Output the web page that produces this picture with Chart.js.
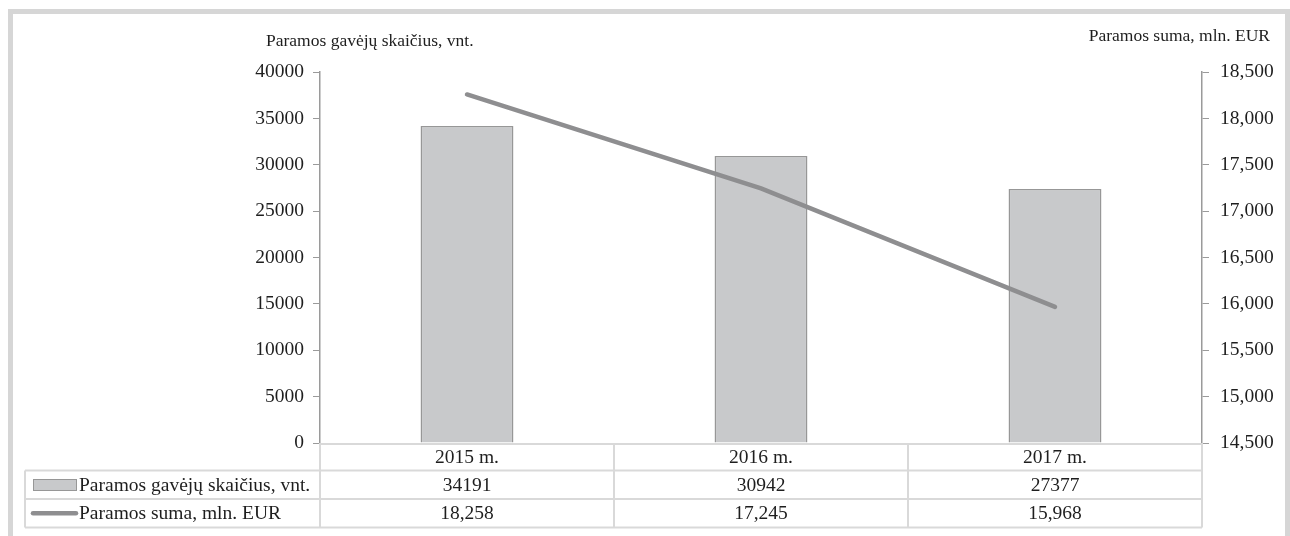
<!DOCTYPE html>
<html>
<head>
<meta charset="utf-8">
<script src="https://cdn.jsdelivr.net/npm/chart.js@4.4.1/dist/chart.umd.min.js"></script>
<style>
  html, body { margin: 0; padding: 0; background: #ffffff; }
  #wrap { position: relative; width: 1290px; height: 536px; }
</style>
</head>
<body>
<div id="wrap"><canvas id="c"></canvas></div>
<script>
// ---- data ----
const categories = ['2015 m.', '2016 m.', '2017 m.'];
const recipientsLabel = 'Paramos gavėjų skaičius, vnt.';
const amountLabel = 'Paramos suma, mln. EUR';
const recipients = [34191, 30942, 27377];
const amounts = [18258, 17245, 15968];
const leftTickMin = 0, leftTickMax = 40000, leftTickStep = 5000;
const rightTickMin = 14500, rightTickMax = 18500, rightTickStep = 500;

const FONT = '"Liberation Serif", "Times New Roman", serif';
const TEXT = '#1e1e1e';
const BAR_FILL = '#c8c9cb';
const BAR_BORDER = '#979797';
const LINE_COLOR = '#8e8e90';
const TABLE_LINE = '#d9d9d9';
const AXIS_COLOR = '#9a9a9a';

const fmt = v => Number(v).toLocaleString('en-US');

const framePlugin = {
  id: 'frame',
  beforeDraw(chart) {
    const ctx = chart.ctx;
    ctx.save();
    ctx.fillStyle = '#ffffff';
    ctx.fillRect(0, 0, chart.width, chart.height);
    ctx.strokeStyle = '#d6d6d6';
    ctx.lineWidth = 5;
    ctx.strokeRect(10.5, 11.5, 1277, 540);
    ctx.restore();
  }
};

const tablePlugin = {
  id: 'dataTable',
  afterDraw(chart) {
    const ctx = chart.ctx;
    const area = chart.chartArea;
    const n = categories.length;
    const step = (area.right - area.left) / n;
    const top = area.bottom;
    const rowH = 28.5;
    const r1 = top + 27.5, r2 = r1 + rowH, r3 = r2 + rowH;
    const tableLeft = 25;
    ctx.save();
    ctx.strokeStyle = TABLE_LINE;
    ctx.lineWidth = 2;
    ctx.beginPath();
    ctx.moveTo(area.left, top + 1); ctx.lineTo(area.right, top + 1);
    [r1, r2, r3].forEach(y => { ctx.moveTo(tableLeft, y); ctx.lineTo(area.right, y); });
    ctx.moveTo(tableLeft, r1); ctx.lineTo(tableLeft, r3);
    for (let i = 0; i <= n; i++) {
      const x = area.left + i * step;
      ctx.moveTo(x, top); ctx.lineTo(x, r3);
    }
    ctx.stroke();

    // legend keys
    ctx.fillStyle = BAR_FILL;
    ctx.strokeStyle = BAR_BORDER;
    ctx.lineWidth = 1;
    ctx.fillRect(33.5, 479.5, 43, 11);
    ctx.strokeRect(33.5, 479.5, 43, 11);
    ctx.strokeStyle = LINE_COLOR;
    ctx.lineWidth = 4.5;
    ctx.lineCap = 'round';
    ctx.beginPath();
    ctx.moveTo(33, (r2 + r3) / 2); ctx.lineTo(76, (r2 + r3) / 2);
    ctx.stroke();

    ctx.fillStyle = TEXT;
    ctx.font = '19.5px ' + FONT;
    ctx.textBaseline = 'middle';
    ctx.textAlign = 'left';
    ctx.fillText(recipientsLabel, 79, (r1 + r2) / 2 + 1);
    ctx.fillText(amountLabel, 79, (r2 + r3) / 2 + 1);
    ctx.textAlign = 'center';
    for (let i = 0; i < n; i++) {
      const x = chart.scales.x.getPixelForValue(i);
      ctx.fillText(String(recipients[i]), x, (r1 + r2) / 2 + 1);
      ctx.fillText(fmt(amounts[i]), x, (r2 + r3) / 2 + 1);
    }

    // axis titles
    ctx.font = '17.5px ' + FONT;
    ctx.textBaseline = 'alphabetic';
    ctx.textAlign = 'left';
    ctx.fillText(recipientsLabel, 266, 46);
    ctx.textAlign = 'right';
    ctx.fillText(amountLabel, 1270, 41);
    ctx.restore();
  }
};

Chart.defaults.font.family = FONT;
Chart.defaults.color = TEXT;

new Chart(document.getElementById('c'), {
  data: {
    labels: categories,
    datasets: [
      {
        type: 'line',
        label: amountLabel,
        data: amounts,
        yAxisID: 'y1',
        borderColor: LINE_COLOR,
        borderWidth: 4.5,
        borderCapStyle: 'round',
        pointRadius: 0,
        tension: 0,
        order: 0
      },
      {
        type: 'bar',
        label: recipientsLabel,
        data: recipients,
        yAxisID: 'y',
        backgroundColor: BAR_FILL,
        borderColor: BAR_BORDER,
        borderWidth: 1.5,
        borderSkipped: 'bottom',
        categoryPercentage: 0.316,
        barPercentage: 1.0,
        order: 1
      }
    ]
  },
  options: {
    responsive: true,
    maintainAspectRatio: false,
    animation: false,
    layout: { padding: { top: 72, left: 0, right: 0, bottom: 0 } },
    plugins: {
      legend: { display: false },
      tooltip: { enabled: false }
    },
    scales: {
      x: {
        grid: { display: false, drawTicks: false },
        border: { display: false },
        ticks: { font: { size: 19.5 }, color: TEXT, padding: 3, maxRotation: 0 },
        afterFit(scale) { scale.height = 93; }
      },
      y: {
        position: 'left',
        min: leftTickMin,
        max: leftTickMax,
        ticks: { stepSize: leftTickStep, font: { size: 19.5 }, color: TEXT, padding: 9,
                 callback: v => String(v) },
        grid: { drawOnChartArea: false, drawTicks: true, tickLength: 7, color: AXIS_COLOR },
        border: { display: true, color: AXIS_COLOR, width: 1.5 },
        afterFit(scale) { scale.width = 320; }
      },
      y1: {
        position: 'right',
        min: rightTickMin,
        max: rightTickMax,
        ticks: { stepSize: rightTickStep, font: { size: 19.5 }, color: TEXT, padding: 11,
                 callback: v => fmt(v) },
        grid: { drawOnChartArea: false, drawTicks: true, tickLength: 7, color: AXIS_COLOR },
        border: { display: true, color: AXIS_COLOR, width: 1.5 },
        afterFit(scale) { scale.width = 88; }
      }
    }
  },
  plugins: [framePlugin, tablePlugin]
});
</script>
</body>
</html>
